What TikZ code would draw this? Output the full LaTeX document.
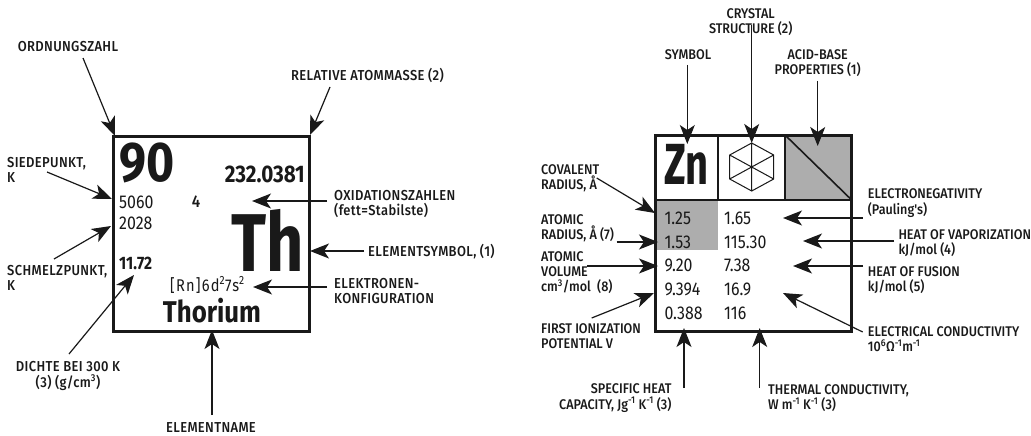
\documentclass[tikz,border=0pt]{standalone}
\usepackage{fontspec}
\setmainfont{Fira Sans}[FakeStretch=0.86]
\newfontfamily\labfont{Fira Sans Medium}[FakeStretch=0.90]
\newfontfamily\labwide{Fira Sans Medium}[FakeStretch=0.90,LetterSpace=2.5]
\usetikzlibrary{arrows.meta}
\tikzset{
  x=1pt,y=-1pt,
  ink/.style={color=black!90},
  lab/.style={ink,inner sep=0pt,align=left,font=\labwide\fontsize{14.4}{15.3}\selectfont,anchor=west},
  labc/.style={lab,align=center,anchor=center},
  rlab/.style={lab,font=\labfont\fontsize{14}{15.3}\selectfont},
  rlabc/.style={rlab,align=center,anchor=center},
  rlabr/.style={rlab,align=right,anchor=east},
  val/.style={ink,inner sep=0pt,anchor=west,font=\fontsize{18.5}{20}\selectfont},
  big/.style={ink,inner sep=0pt,font=\bfseries},
  frame/.style={draw=black!90,line width=3pt,line join=miter},
  thin/.style={draw=black!90,line width=1.6pt},
  arr/.style={draw=black!90,line width=1.2pt,-{Stealth[length=19pt,width=15pt,inset=5pt]}},
}
\begin{document}
\begin{tikzpicture}
\useasboundingbox[fill=white] (0,0) rectangle (1031,436);
% ---- left element cell
\draw[frame] (113.5,136) rectangle (309,331);
\node[big,anchor=west,font=\bfseries\fontsize{56}{56}\selectfont] (n90) at (119,163) {90};
\node[big,anchor=east,font=\bfseries\fontsize{24}{26}\selectfont] (mass) at (305,174) {232.0381};
\node[val] (v5060) at (119,202) {5060};
\node[val,anchor=center,font=\labfont\fontsize{17}{18}\selectfont] (ox) at (196,202) {4};
\node[val] (v2028) at (119,223) {2028};
\node[val,font=\bfseries\fontsize{18}{20}\selectfont] (v1172) at (119,263) {11.72};
\node[big,font=\bfseries\fontsize{82}{82}\selectfont] (th) at (268,240) {\scalebox{.92}[1]{Th}};
\node[val,font=\fontsize{17}{18}\selectfont\addfontfeature{LetterSpace=7}] (conf) at (170,285) {[Rn]6d\textsuperscript{2}7s\textsuperscript{2}};
\node[big,font=\bfseries\fontsize{30}{30}\selectfont] (thname) at (212,311) {Thorium};
% labels
\node[labc] (lOrd) at (68,47) {ORDNUNGSZAHL};
\node[lab] (lRel) at (291,75) {RELATIVE ATOMMASSE (2)};
\node[lab] (lSie) at (7,170) {SIEDEPUNKT,\\K};
\node[lab] (lSch) at (7,278) {SCHMELZPUNKT,\\K};
\node[labc] (lDic) at (68,376) {DICHTE BEI 300 K\\(3) (g/cm\textsuperscript{3})};
\node[lab] (lOxi) at (334,204) {OXIDATIONSZAHLEN\\(fett=Stabilste)};
\node[lab] (lSym) at (368,252) {ELEMENTSYMBOL, (1)};
\node[lab] (lEle) at (334,291) {ELEKTRONEN-\\KONFIGURATION};
\node[labc] (lNam) at (211,428) {ELEMENTNAME};
% connector ends
\coordinate (a1s) at (83,58);    \coordinate (a1e) at (115,136);
\coordinate (a2s) at (330,87);   \coordinate (a2e) at (310,135);
\coordinate (a3s) at (47,172);   \coordinate (a3e) at (112,199);
\coordinate (a4s) at (54,259);   \coordinate (a4e) at (111,226);
\coordinate (a5s) at (69,354);   \coordinate (a5e) at (134,275);
\coordinate (a6s) at (327,201);  \coordinate (a6e) at (252,201);
\coordinate (a7s) at (364,251);  \coordinate (a7e) at (310,251);
\coordinate (a8s) at (327,287);  \coordinate (a8e) at (253,287);
\coordinate (a9s) at (212,415);  \coordinate (a9e) at (212,330);
\foreach \k in {1,...,9} {\draw[arr] (a\k s) -- (a\k e);}
% ---- right element cell
\fill[black!32] (656,200) rectangle (717.7,250);
\fill[black!32] (785,135) -- (851.7,135) -- (851.7,200) -- (785,200) -- cycle;
\draw[thin] (785,135) -- (851.7,200);
\draw[thin] (717.7,135) -- (717.7,200) (785,135) -- (785,200);
\draw[thin] (655.7,200) -- (851.7,200);
\draw[frame] (655.7,135) rectangle (851.7,331);
% hexagon
\coordinate (hc) at (751.7,167);
\coordinate (h1) at (751.7,143); \coordinate (h2) at (773.7,155);
\coordinate (h3) at (773.7,179); \coordinate (h4) at (751.7,191);
\coordinate (h5) at (729.7,179); \coordinate (h6) at (729.7,155);
\draw[draw=black!90,line width=1pt] (h1)--(h2)--(h3)--(h4)--(h5)--(h6)--cycle
  (h1)--(h4) (h2)--(h5) (h3)--(h6);
\node[big,font=\bfseries\fontsize{58}{58}\selectfont] (zn) at (686.5,164) {\scalebox{.8}[1]{Zn}};
% values
\node[val] (d11) at (664.3,218) {1.25};
\node[val] (d12) at (664.3,242) {1.53};
\node[val] (d13) at (664.3,265.7) {9.20};
\node[val] (d14) at (664.3,289) {9.394};
\node[val] (d15) at (664.3,313) {0.388};
\node[val] (d21) at (724,218) {1.65};
\node[val] (d22) at (724,242) {115.30};
\node[val] (d23) at (724,265.7) {7.38};
\node[val] (d24) at (724,289) {16.9};
\node[val] (d25) at (724,313) {116};
% labels
\node[rlabc] (rCry) at (750.7,22) {CRYSTAL\\STRUCTURE (2)};
\node[rlabc] (rSym) at (688,55) {SYMBOL};
\node[rlabc] (rAci) at (817.7,63) {ACID-BASE\\PROPERTIES (1)};
\node[rlab] (rCov) at (541,178) {COVALENT\\RADIUS, Å};
\node[rlab] (rRad) at (541,228) {ATOMIC\\RADIUS, Å (7)};
\node[rlab] (rVol) at (541,272.7) {ATOMIC\\VOLUME\\cm\textsuperscript{3}/mol\ \ (8)};
\node[rlab] (rIon) at (541,336) {FIRST IONIZATION\\POTENTIAL V};
\node[rlabr] (rSpe) at (671.7,398) {SPECIFIC HEAT\\CAPACITY, Jg\textsuperscript{-1} K\textsuperscript{-1} (3)};
\node[rlab] (rThe) at (768,398) {THERMAL CONDUCTIVITY,\\W m\textsuperscript{-1} K\textsuperscript{-1} (3)};
\node[rlab] (rNeg) at (867.7,203) {ELECTRONEGATIVITY\\(Pauling's)};
\node[rlab] (rVap) at (898.3,243) {HEAT OF VAPORIZATION\\kJ/mol (4)};
\node[rlab] (rFus) at (867.7,280) {HEAT OF FUSION\\kJ/mol (5)};
\node[rlab] (rCon) at (867.7,339) {ELECTRICAL CONDUCTIVITY\\10\textsuperscript{6}Ω\textsuperscript{-1}m\textsuperscript{-1}};
% connector ends
\coordinate (b1s) at (687.3,65);  \coordinate (b1e) at (687.3,144);
\coordinate (b2s) at (751.7,25);  \coordinate (b2e) at (751.7,143);
\coordinate (b3s) at (817.7,81);  \coordinate (b3e) at (817.7,146);
\coordinate (b4s) at (596.7,178); \coordinate (b4e) at (655,213);
\coordinate (b5s) at (616.7,242); \coordinate (b5e) at (658,242);
\coordinate (b6s) at (587,266);   \coordinate (b6e) at (658,266);
\coordinate (b7s) at (591.7,318); \coordinate (b7e) at (654,293);
\coordinate (b8s) at (684,388);   \coordinate (b8e) at (684,328);
\coordinate (b9s) at (759.7,388); \coordinate (b9e) at (759.7,328);
\coordinate (b10s) at (862.7,218); \coordinate (b10e) at (783,218);
\coordinate (b11s) at (894,241);   \coordinate (b11e) at (803,241);
\coordinate (b12s) at (863,266);   \coordinate (b12e) at (793,266);
\coordinate (b13s) at (862.7,332); \coordinate (b13e) at (783,293);
\foreach \k in {1,...,13} {\draw[arr] (b\k s) -- (b\k e);}
\end{tikzpicture}
\end{document}
